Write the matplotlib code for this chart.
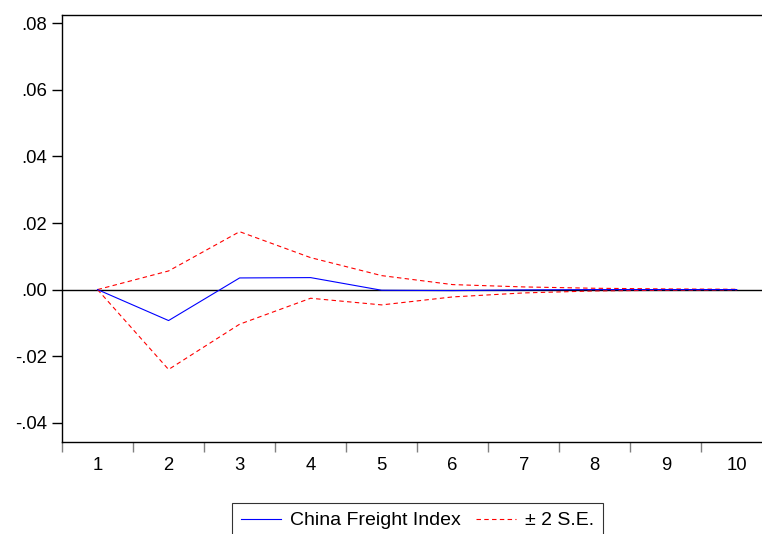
import matplotlib.pyplot as plt
import numpy as np

plt.rcParams['font.family'] = ['Liberation Sans', 'DejaVu Sans']

periods = [1, 2, 3, 4, 5, 6, 7, 8, 9, 10]
response = [0.0, -0.0093, 0.0035, 0.0036, -0.0002, -0.0003, -0.0001, 0.0, 0.0, 0.0]
upper = [0.0, 0.0056, 0.0174, 0.0096, 0.0042, 0.0015, 0.0008, 0.0004, 0.0002, 0.0001]
lower = [0.0, -0.0240, -0.0104, -0.0026, -0.0046, -0.0022, -0.0010, -0.0004, -0.0002, -0.0001]
yticks = [-0.04, -0.02, 0.00, 0.02, 0.04, 0.06, 0.08]
ylabels = ['-.04', '-.02', '.00', '.02', '.04', '.06', '.08']

fig = plt.figure(figsize=(7.62, 5.34), dpi=100)
ax = fig.add_axes([0.0814, 0.1728, 0.9186, 0.7992])

ax.axhline(0, color='black', lw=1.0, zorder=1)
l1, = ax.plot(periods, response, color='#0000ff', lw=0.8, zorder=3)
l2, = ax.plot(periods, upper, color='#ff0000', lw=0.8, ls=(0, (4, 3)), zorder=2)
ax.plot(periods, lower, color='#ff0000', lw=0.8, ls=(0, (4, 3)), zorder=2)

ax.set_xlim(0.5, 10.355)
ax.set_ylim(-0.0457, 0.0825)

ax.set_yticks(yticks)
ax.set_yticklabels(ylabels, fontsize=13.3)
ax.tick_params(axis='y', direction='out', length=7, width=1, pad=4)

# category boundaries get the tick marks, labels sit in the middle
ax.set_xticks(np.arange(0.5, 10.5, 1.0))
ax.set_xticklabels([])
ax.tick_params(axis='x', which='major', direction='out', length=7, width=1, color='#808080')
ax.set_xticks(periods, minor=True)
ax.set_xticklabels([str(p) for p in periods], minor=True, fontsize=13.3)
ax.tick_params(axis='x', which='minor', length=0, pad=11)

for s in ax.spines.values():
    s.set_linewidth(1.0)
ax.spines['right'].set_visible(False)

leg = fig.legend([l1, l2], ['China Freight Index', '± 2 S.E.'],
                 loc='upper center', bbox_to_anchor=(0.548, 0.058), ncol=2,
                 fontsize=14, frameon=True, fancybox=False, edgecolor='black',
                 handlelength=2.05, columnspacing=0.75, handletextpad=0.5,
                 borderpad=0.45, borderaxespad=0)
leg.get_frame().set_linewidth(0.8)

plt.savefig('out.png', dpi=100)
